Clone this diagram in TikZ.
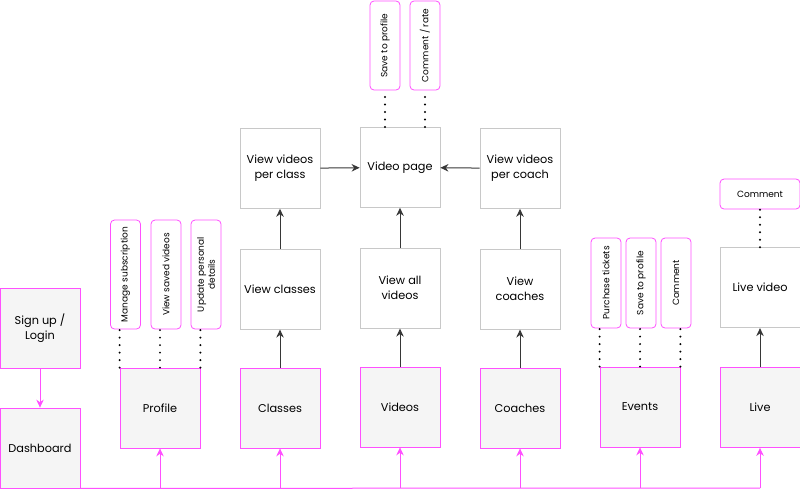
\documentclass[tikz,border=0pt]{standalone}
\usepackage{fontspec}
\setmainfont{Poppins}
\usetikzlibrary{arrows.meta,positioning}
\definecolor{pinkline}{RGB}{255,80,255}
\definecolor{boxfill}{RGB}{245,245,245}
\definecolor{boxgray}{RGB}{200,200,200}
\definecolor{arrowgray}{RGB}{55,55,55}
\tikzset{%
	section/.style  = {draw=pinkline, fill=boxfill, line width=0.8pt, minimum width=80pt, minimum height=80pt, align=center, font=\fontsize{11.3}{15}\selectfont}, % main sections
	page/.style     = {draw=boxgray, fill=white, line width=0.8pt, minimum width=80pt, minimum height=80pt, align=center, font=\fontsize{11.3}{15}\selectfont}, % sub pages
	tagbox/.style   = {draw=pinkline, fill=white, line width=0.8pt, rounded corners=4pt, minimum height=30pt, inner sep=0pt, align=center, font=\fontsize{9}{11}\selectfont},
	tag/.style      = {tagbox, rotate=90},
	link/.style     = {draw=arrowgray, line width=1pt, -{Stealth[length=8pt,width=7.5pt]}},
	buslink/.style  = {draw=pinkline, line width=1pt, -{Stealth[length=8pt,width=7.5pt]}},
	dots/.style     = {draw=black, line width=2.2pt, line cap=round, dash pattern=on 0pt off 7.5pt},
}
\begin{document}
\begin{tikzpicture}[x=1pt, y=-1pt, node distance=40pt]
	\useasboundingbox (0,0) rectangle (800,496);
	% left column
	\node[section] (signup) at (40,328.5) {Sign up /\\Login};
	\node[section] (dash) at (40,448) {Dashboard};
	% main sections
	\node[section] (profile) at (160,408) {Profile};
	\node[section] (classes) at (280,408) {Classes};
	\node[section] (videos) at (400,407) {Videos};
	\node[section] (coaches) at (520,408) {Coaches};
	\node[section] (events) at (640,407) {Events};
	\node[section] (live) at (760,407.5) {Live};
	% pages
	\node[page, above=38pt of classes] (viewclasses) {View classes};
	\node[page, above=38pt of videos] (viewall) {View all\\videos};
	\node[page, above=38pt of coaches] (viewcoaches) {View\\coaches};
	\node[page, above=39pt of live] (livevideo) {Live video};
	\node[page, above=of viewclasses] (perclass) {View videos\\per class};
	\node[page, above=of viewall] (videopage) {Video page};
	\node[page, above=of viewcoaches] (percoach) {View videos\\per coach};
	% tags
	\node[tag, minimum width=109pt] (manage) at (125.5,274.5) {Manage subscription};
	\node[tag, minimum width=109pt] (saved) at (166,274.5) {View saved videos};
	\node[tag, minimum width=109pt] (update) at (206,274.5) {Update personal\\details};
	\node[tag, minimum width=89pt] (savevideo) at (385,45.5) {Save to profile};
	\node[tag, minimum width=89pt] (rate) at (425,45.5) {Comment / rate};
	\node[tag, minimum width=90pt] (tickets) at (606,283) {Purchase tickets};
	\node[tag, minimum width=90pt] (saveevent) at (641,283) {Save to profile};
	\node[tag, minimum width=90pt] (commentevent) at (676,283) {Comment};
	\node[tagbox, minimum width=80pt] (livecomment) at (760,194) {Comment};
	\coordinate (busend) at (760,488);

	% dotted links
	\draw[dots] (profile.north west) -- (profile.north west |- manage.west);
	\draw[dots] (profile.north) -- (profile.north |- saved.west);
	\draw[dots] (profile.north east) -- (profile.north east |- update.west);
	\draw[dots] (videopage.north -| savevideo.west) -- (savevideo.west);
	\draw[dots] (videopage.north -| rate.west) -- (rate.west);
	\draw[dots] (events.north west) -- (events.north west |- tickets.west);
	\draw[dots] (events.north) -- (events.north |- saveevent.west);
	\draw[dots] (events.north east) -- (events.north east |- commentevent.west);
	\draw[dots] (livevideo.north) -- (livecomment.south);

	% page links
	\draw[link] (classes) -- (viewclasses);
	\draw[link] (viewclasses) -- (perclass);
	\draw[link] (perclass) -- (videopage);
	\draw[link] (videos) -- (viewall);
	\draw[link] (viewall) -- (videopage);
	\draw[link] (coaches) -- (viewcoaches);
	\draw[link] (viewcoaches) -- (percoach);
	\draw[link] (percoach) -- (videopage);
	\draw[link] (live) -- (livevideo);

	% dashboard bus
	\draw[buslink] (signup) -- (dash);
	\draw[draw=pinkline, line width=1pt] (dash.south east) -- (busend);
	\draw[buslink] (busend) -- (live.south);
	\foreach \s in {profile,classes,videos,coaches,events}
		\draw[buslink] (\s.south |- busend) -- (\s.south);
\end{tikzpicture}
\end{document}
